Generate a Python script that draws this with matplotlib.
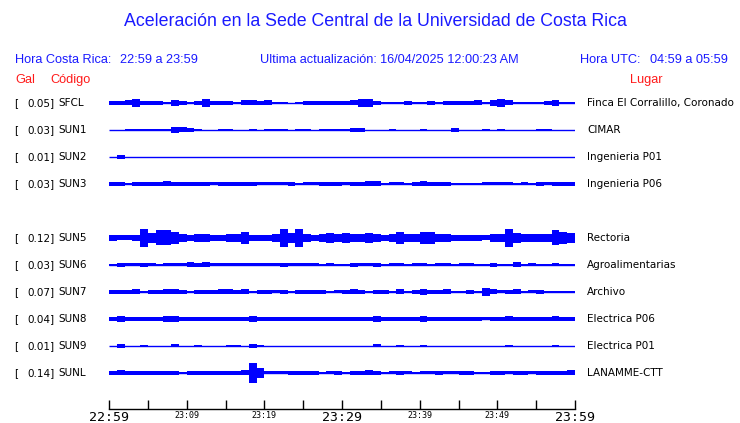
import numpy as np
import matplotlib
matplotlib.use("Agg")
import matplotlib.pyplot as plt

W, H = 740, 423

# ---------------- data ----------------
codes = ["SFCL", "SUN1", "SUN2", "SUN3", "SUN5", "SUN6", "SUN7", "SUN8", "SUN9", "SUNL"]
gal = ["0.05", "0.03", "0.01", "0.03", "0.12", "0.03", "0.07", "0.04", "0.01", "0.14"]
places = ["Finca El Corralillo, Coronado", "CIMAR", "Ingenieria P01", "Ingenieria P06",
          "Rectoria", "Agroalimentarias", "Archivo", "Electrica P06", "Electrica P01", "LANAMME-CTT"]

# envelope half-amplitude per minute (pixels), minutes 22:59 -> 23:59
amp_SFCL = [1.5, 1.5, 2, 3, 1.5, 1.5, 1.5, 0.5, 2.5, 1.5, 1, 1.5, 3, 1.5, 1.5, 1.5, 1, 2, 2, 1.5,
            2, 0.5, 0.5, 0, 0.5, 1.5, 1.5, 1.5, 1.5, 1.5, 1.5, 2, 3, 3, 1.5, 1, 1, 1, 1.5, 1,
            1, 1.5, 1, 1.5, 1.5, 1.5, 1.5, 2, 1, 2.5, 3, 2, 1, 0.5, 1, 1, 1.5, 2.5, 0.5, 0.5]
amp_SUN1 = [0, 0, 1, 0.8, 0.8, 0.8, 0.8, 0.5, 2.5, 2, 1.5, 0.5, 0, 0, 0.8, 1, 0, 0, 0.8, 0,
            0.8, 1, 0.8, 0, 0.5, 0.5, 0, 0.8, 0.5, 1, 1, 1.5, 1.5, 0, 0, 0, 0.5, 0, 0, 0,
            0.5, 0, 0, 0, 1.5, 0, 0, 0, 0.5, 0, 0.8, 0, 0, 0, 0, 0.8, 0.8, 0, 0, 0]
amp_SUN2 = [0, 1.5, 0, 0, 0, 0, 0, 0, 0, 0, 0, 0, 0, 0, 0, 0, 0, 0, 0, 0,
            0, 0, 0, 0, 0, 0, 0, 0, 0, 0, 0, 0, 0, 0, 0, 0, 0, 0, 0, 0,
            0, 0, 0, 0, 0, 0, 0, 0, 0, 0, 0, 0, 0, 0, 0, 0, 0, 0, 0, 0]
amp_SUN3 = [1.5, 1.5, 1, 1.5, 1.5, 1.5, 1.5, 2, 1.5, 1.5, 1.5, 1.5, 1.5, 1.2, 1.5, 1.5, 1.5, 1.5, 1.5, 1.2,
            1.2, 1.2, 1.2, 1.5, 1, 1.2, 1.2, 1.5, 1.5, 1.5, 1.2, 1.5, 1.5, 2, 2, 1, 1.2, 1.2, 1, 1.5,
            2, 1.5, 1.5, 1.5, 1, 0.5, 1, 0.8, 1.2, 1.2, 1.2, 1.2, 1, 1.2, 1, 1.5, 1.2, 1.5, 1.5, 1.5]
amp_SUN5 = [2.5, 2, 2, 2.5, 7, 4, 6, 6, 5, 3, 2.5, 3.5, 3, 2.5, 2.5, 3, 3.5, 5, 2.5, 2.5,
            2.5, 3, 7, 4, 7.5, 3, 2.5, 3, 4, 3, 4, 3, 3, 4, 3.5, 2.5, 3, 4.5, 3, 3,
            5, 4.5, 3, 3, 2.5, 2.5, 2.5, 2.5, 2, 3, 3, 7, 4, 3, 3, 3, 3.5, 6, 5, 4]
amp_SUN6 = [0.8, 1.5, 1.2, 1.2, 1.5, 1.2, 0.5, 1.2, 1.2, 1.2, 2, 1.5, 2, 1.2, 1.2, 1.2, 1.2, 1.2, 1.2, 1.2,
            1.2, 1.2, 1.5, 1.2, 1.2, 1.2, 1.2, 1, 1.2, 1, 0.5, 1.5, 1.2, 1.2, 1.8, 0.5, 1.2, 1.2, 0.5, 1.2,
            1.2, 1, 1.2, 1.2, 1, 1.2, 1.2, 1, 0.5, 1.5, 1, 1, 2, 1, 1.2, 1, 0.5, 1.2, 1, 1]
amp_SUN7 = [1.5, 1.5, 1.5, 2, 0.5, 1.5, 1.5, 2, 2, 1.5, 1, 1.5, 1.5, 1.5, 2, 2, 1.5, 2, 0.5, 1.5,
            1.5, 1.2, 1.5, 0.5, 1.5, 1.5, 1.5, 1.5, 1, 1.2, 1.5, 2, 1.5, 0.5, 1.5, 1.5, 0.5, 2, 1, 1.5,
            2.5, 1.5, 1.5, 2, 0.5, 1, 1.5, 0.5, 3, 2, 1.2, 1.5, 2, 1, 1.2, 1.5, 0.5, 0.5, 0.5, 0.5]
amp_SUN8 = [1.5, 2.5, 1.5, 1.5, 1.8, 1.8, 1.5, 2.2, 2.2, 1.5, 1.8, 1.8, 1.5, 1.5, 1.5, 1.5, 1.5, 1.5, 2.5, 1.8,
            1.5, 1.5, 1.5, 1.5, 1.8, 1.8, 1.5, 1.5, 1.5, 1.5, 1.5, 1.5, 1.5, 1.5, 2.2, 1.5, 1.5, 1.8, 1.5, 1.5,
            2.5, 1.5, 1.5, 1.5, 1.5, 1.5, 1.5, 1.5, 1.2, 1.5, 1.5, 2, 1.5, 1.5, 1.5, 1.5, 1.5, 2, 1.8, 1.5]
amp_SUN9 = [0, 1.5, 0, 0, 1, 0, 0, 0, 1.2, 0, 0, 0.8, 0, 0, 0, 0.5, 0.5, 0, 1.5, 0.8,
            0, 0, 0, 0, 0, 0, 0, 0, 0, 0, 0, 0, 0, 0, 1.2, 0, 0, 1, 0, 0,
            0.8, 0, 0, 0, 0, 0, 0, 0, 0, 0, 0, 0.8, 0, 0, 0, 0, 0, 1, 0, 0]
amp_SUNL = [1.5, 2, 1.5, 1.5, 1.5, 1.5, 1.5, 1.5, 1.5, 0.5, 1.5, 1.5, 1.5, 1.5, 1.5, 1.5, 1.5, 2, 8, 4,
            1.2, 1.2, 1.2, 1.5, 1.5, 1.5, 1.5, 1, 1.2, 1.5, 0.5, 1.5, 1.5, 2, 1.5, 1, 1.2, 1.5, 1.2, 1,
            1.2, 1.2, 1.5, 1.2, 1.2, 1.5, 1.5, 1, 0.5, 1.5, 1.5, 1.2, 1.5, 1.5, 1.2, 1.5, 1.5, 1.5, 1.5, 2]
amplitudes = [amp_SFCL, amp_SUN1, amp_SUN2, amp_SUN3, amp_SUN5, amp_SUN6,
              amp_SUN7, amp_SUN8, amp_SUN9, amp_SUNL]

tick_minutes = list(range(0, 61, 5))
tick_labels = ["22:59", "", "23:09", "", "23:19", "", "23:29", "", "23:39", "", "23:49", "", "23:59"]
big_labels = {"22:59", "23:29", "23:59"}

# ---------------- layout ----------------
baselines = [103, 130, 157, 184, 238, 265, 292, 319, 346, 373]
amp_scale = 1.25
BLUE = "#0000ff"
HDR = "#1a1aff"
RED = "#ff1a1a"

fig = plt.figure(figsize=(W / 100, H / 100), dpi=100)
fig.patch.set_facecolor("white")


def fy(py):
    return 1 - py / H


def fx(px):
    return px / W


ax = fig.add_axes([109 / W, 0, 466 / W, 1])
ax.set_xlim(0, 60)
ax.set_ylim(H, 0)
ax.patch.set_alpha(0)
for s in ("left", "right", "top"):
    ax.spines[s].set_visible(False)
ax.spines["bottom"].set_position(("data", 409))
ax.spines["bottom"].set_linewidth(1.0)
ax.set_yticks([])
ax.set_xticks(tick_minutes)
ax.set_xticklabels(tick_labels, family="DejaVu Sans Mono")
ax.tick_params(axis="x", direction="in", length=6.5, width=1.0, pad=1.5, colors="black")
for lab in ax.get_xticklabels():
    if lab.get_text() in big_labels:
        lab.set_fontsize(9.5)
    else:
        lab.set_fontsize(6)

edges = np.repeat(np.arange(61), 2)[1:-1]
for base, amp in zip(baselines, amplitudes):
    a = np.repeat(np.asarray(amp, dtype=float), 2) * amp_scale
    ax.plot([0, 60], [base, base], color=BLUE, lw=1.0, solid_capstyle="butt")
    ax.fill_between(edges, base - a, base + a, color=BLUE, linewidth=0)

# ---------------- texts ----------------
fig.text(0.508, fy(21), "Aceleración en la Sede Central de la Universidad de Costa Rica",
         ha="center", va="center", color=HDR, fontsize=12.8, family="Liberation Sans")

hdr = dict(va="center", color=HDR, fontsize=9.2, family="Liberation Sans")
fig.text(fx(15), fy(60), "Hora Costa Rica:", **hdr)
fig.text(fx(120), fy(60), "22:59 a 23:59", **hdr)
fig.text(fx(260), fy(60), "Ultima actualización:", **hdr)
fig.text(fx(380), fy(60), "16/04/2025 12:00:23 AM", **hdr)
fig.text(fx(580), fy(60), "Hora UTC:", **hdr)
fig.text(fx(650), fy(60), "04:59 a 05:59", **hdr)

red = dict(va="center", color=RED, fontsize=9.2, family="Liberation Sans")
fig.text(fx(15), fy(80), "Gal", **red)
fig.text(fx(50), fy(80), "Código", **red)
fig.text(fx(630), fy(80), "Lugar", **red)

lbl = dict(va="center", color="black", fontsize=7.5, family="DejaVu Sans")
for base, g, c, p in zip(baselines, gal, codes, places):
    fig.text(fx(14), fy(base), "[", **lbl)
    fig.text(fx(55), fy(base), g + "]", ha="right", **lbl)
    fig.text(fx(58), fy(base), c, **lbl)
    fig.text(fx(587), fy(base), p, **lbl)

fig.savefig("out.png", dpi=100, facecolor="white")
